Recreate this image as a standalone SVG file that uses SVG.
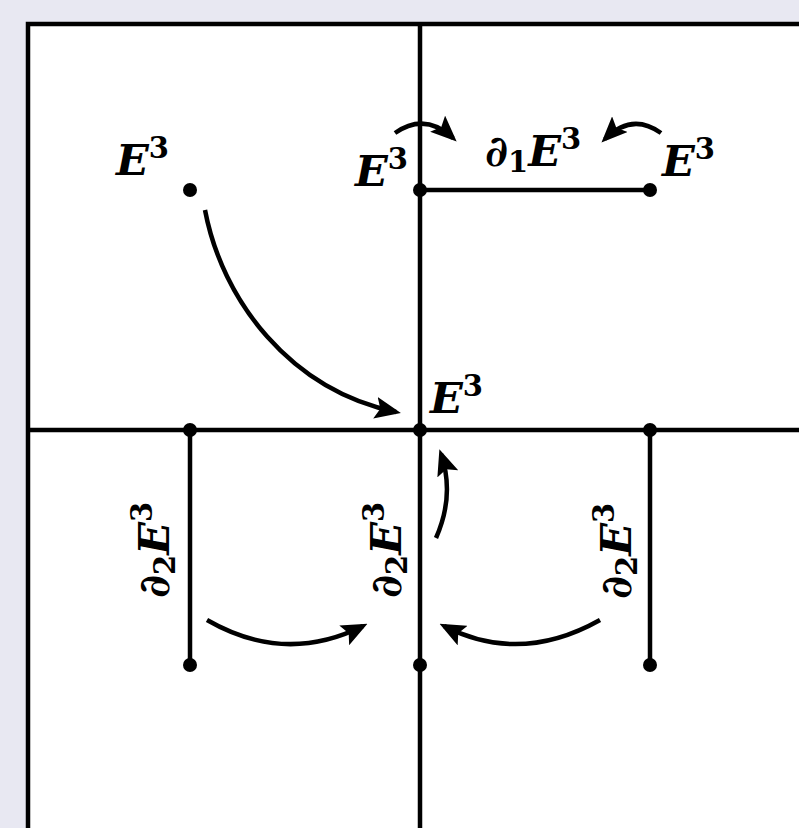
<svg xmlns="http://www.w3.org/2000/svg" width="799" height="828" viewBox="0 0 799 828">
<style>
.ln{stroke:#000;stroke-width:4.5;fill:none}
.ar{stroke:#000;stroke-width:4.5;fill:none;marker-end:url(#ah)}
.dot{fill:#000}
.lb{font-family:"DejaVu Serif","Liberation Serif",serif;font-weight:bold;font-style:italic;font-size:43px;fill:#000}
.up{font-style:normal;font-size:29px}
</style>
<defs>
<marker id="ah" markerUnits="userSpaceOnUse" viewBox="0 0 26 22" refX="21" refY="11" markerWidth="26" markerHeight="22" orient="auto">
<path d="M0,0 L26,11 L0,22 L5,11 z" fill="#000"/>
</marker>
</defs>
<rect x="0" y="0" width="799" height="828" fill="#e8e8f2"/>
<rect x="28" y="24" width="780" height="820" fill="#fff"/>
<g id="grid">
<path class="ln" d="M28,828 V24 H799"/>
<path class="ln" d="M420,24 V828"/>
<path class="ln" d="M28,430 H799"/>
</g>
<g id="connectors">
<path class="ln" d="M420,190 H650"/>
<path class="ln" d="M190,430 V665"/>
<path class="ln" d="M650,430 V665"/>
<path class="ar" d="M205,210 C222,300 290,390 396,412"/>
<path class="ar" d="M395,133 Q425,112 453,138"/>
<path class="ar" d="M661,133 Q632,112 605,139"/>
<path class="ar" d="M436,538 Q455,495 441,454"/>
<path class="ar" d="M207,620 Q285,665 363,626"/>
<path class="ar" d="M600,620 Q520,665 444,626"/>
</g>
<g id="nodes">
<g id="n1"><circle class="dot" cx="190" cy="190" r="7"/><text class="lb" x="116" y="175">E<tspan class="up" dy="-17">3</tspan></text></g>
<g id="n2"><circle class="dot" cx="420" cy="190" r="7"/><text class="lb" x="355" y="186">E<tspan class="up" dy="-17">3</tspan></text></g>
<g id="n3"><circle class="dot" cx="650" cy="190" r="7"/><text class="lb" x="662" y="176">E<tspan class="up" dy="-17">3</tspan></text></g>
<g id="n4"><text class="lb" x="485" y="166">∂<tspan class="up" dy="6">1</tspan><tspan dy="-6">E</tspan><tspan class="up" dy="-17">3</tspan></text></g>
<g id="n5"><circle class="dot" cx="420" cy="430" r="7"/><text class="lb" x="430" y="413">E<tspan class="up" dy="-17">3</tspan></text></g>
<g id="n6"><circle class="dot" cx="190" cy="430" r="7"/></g>
<g id="n7"><circle class="dot" cx="650" cy="430" r="7"/></g>
<g id="n8"><circle class="dot" cx="190" cy="665" r="7"/></g>
<g id="n9"><circle class="dot" cx="420" cy="665" r="7"/></g>
<g id="n10"><circle class="dot" cx="650" cy="665" r="7"/></g>
<g id="l1"><text class="lb" transform="translate(169,598) rotate(-90)">∂<tspan class="up" dy="6">2</tspan><tspan dy="-6">E</tspan><tspan class="up" dy="-17">3</tspan></text></g>
<g id="l2"><text class="lb" transform="translate(401,598) rotate(-90)">∂<tspan class="up" dy="6">2</tspan><tspan dy="-6">E</tspan><tspan class="up" dy="-17">3</tspan></text></g>
<g id="l3"><text class="lb" transform="translate(631,599) rotate(-90)">∂<tspan class="up" dy="6">2</tspan><tspan dy="-6">E</tspan><tspan class="up" dy="-17">3</tspan></text></g>
</g>
</svg>
